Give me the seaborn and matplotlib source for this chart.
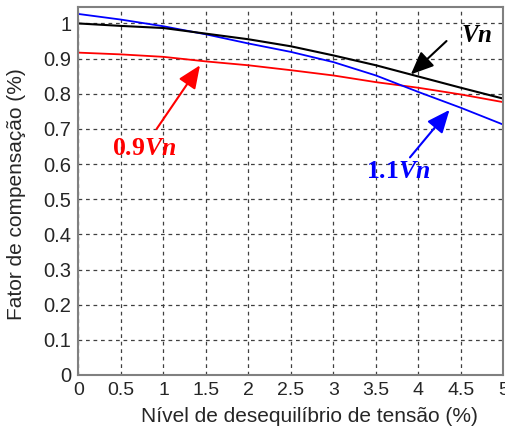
import numpy as np
import pandas as pd
import seaborn as sns
import matplotlib.pyplot as plt

# desequilibrio de tensao (%) e fator de compensacao
desequilibrio = [0, 0.5, 1, 1.5, 2, 2.5, 3, 3.5, 4, 4.5, 5]
fator_vn = [1.0, 0.993, 0.987, 0.971, 0.955, 0.935, 0.909, 0.881, 0.849, 0.817, 0.786]
fator_09vn = [0.917, 0.912, 0.905, 0.892, 0.881, 0.867, 0.852, 0.833, 0.817, 0.798, 0.776]
fator_11vn = [1.027, 1.011, 0.992, 0.969, 0.943, 0.919, 0.890, 0.852, 0.805, 0.760, 0.712]

sns.set_style("white")
plt.rcParams['font.family'] = ['Liberation Sans', 'DejaVu Sans']
plt.rcParams['mathtext.fontset'] = 'custom'
plt.rcParams['mathtext.rm'] = 'Liberation Serif'
plt.rcParams['mathtext.bf'] = 'Liberation Serif:bold'
plt.rcParams['mathtext.it'] = 'Liberation Serif:italic'
plt.rcParams['mathtext.bfit'] = 'Liberation Serif:italic:bold'

fig = plt.figure(figsize=(5.06, 4.33), dpi=100)
ax = fig.add_axes([0.155, 0.134, 0.840, 0.850])

df = pd.DataFrame({"x": desequilibrio, "Vn": fator_vn, "0.9Vn": fator_09vn, "1.1Vn": fator_11vn})
sns.lineplot(data=df, x="x", y="0.9Vn", color="red", lw=1.3, ax=ax)
sns.lineplot(data=df, x="x", y="1.1Vn", color="blue", lw=1.3, ax=ax)
sns.lineplot(data=df, x="x", y="Vn", color="black", lw=1.5, ax=ax)

ax.set_xlim(0, 5)
ax.set_ylim(0, 1.047)
ax.set_xticks(np.arange(0, 5.01, 0.5))
ax.set_xticklabels(["0", "0.5", "1", "1.5", "2", "2.5", "3", "3.5", "4", "4.5", "5"])
ax.set_yticks(np.arange(0, 1.01, 0.1))
ax.set_yticklabels(["0", "0.1", "0.2", "0.3", "0.4", "0.5", "0.6", "0.7", "0.8", "0.9", "1"])
ax.tick_params(axis="x", length=0, labelsize=14, pad=5)
ax.tick_params(axis="y", length=0, labelsize=14.5, pad=5)
ax.grid(True, color="#404040", linestyle=(0, (3, 3)), linewidth=0.9)
for s in ax.spines.values():
    s.set_color("#808080")
    s.set_linewidth(1.5)

ax.set_xlabel("Nível de desequilíbrio de tensão (%)", fontsize=15)
ax.set_ylabel("Fator de compensação (%)", fontsize=15)
ax.xaxis.set_label_coords(0.543, -0.087)
ax.yaxis.set_label_coords(-0.123, 0.492)

style = "-|>,head_length=0.7,head_width=0.3"
# Vn
ax.text(4.68, 0.966, r"$\mathbfit{Vn}$", fontsize=18, color="black", ha="center", va="center")
ax.annotate("", xy=(3.91, 0.855), xytext=(4.33, 0.950),
            arrowprops=dict(arrowstyle=style, color="black", lw=1.5, mutation_scale=20, shrinkA=0, shrinkB=0))
# 0.9Vn
ax.text(0.77, 0.647, r"$\mathbf{0.9}\mathbfit{Vn}$", fontsize=18.5, color="red", ha="center", va="center")
ax.annotate("", xy=(1.43, 0.881), xytext=(0.92, 0.70),
            arrowprops=dict(arrowstyle=style, color="red", lw=1.5, mutation_scale=20, shrinkA=0, shrinkB=0))
# 1.1Vn
ax.text(3.76, 0.580, r"$\mathbf{1.1}\mathbfit{Vn}$", fontsize=18.5, color="blue", ha="center", va="center")
ax.annotate("", xy=(4.365, 0.754), xytext=(3.90, 0.619),
            arrowprops=dict(arrowstyle=style, color="blue", lw=1.5, mutation_scale=20, shrinkA=0, shrinkB=0))

plt.savefig("out.png", dpi=100)
